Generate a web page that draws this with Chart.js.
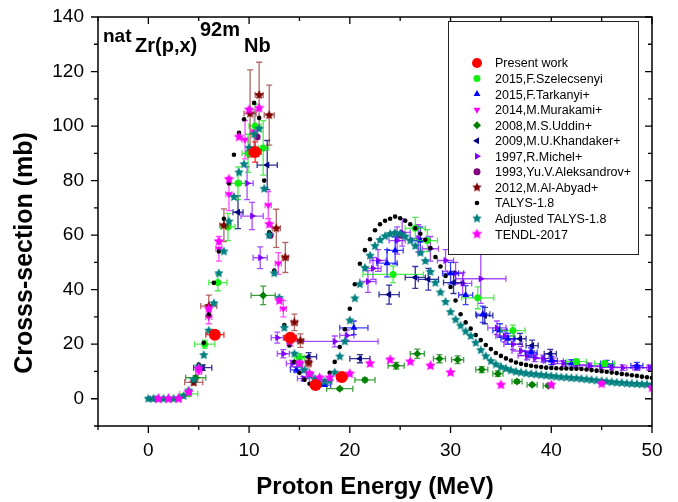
<!DOCTYPE html>
<html>
<head>
<meta charset="utf-8">
<script src="https://cdn.jsdelivr.net/npm/chart.js@4.4.1/dist/chart.umd.min.js"></script>
<style>
  html, body { margin: 0; padding: 0; background: #fff; }
</style>
</head>
<body>
<canvas id="chart" width="678" height="502"></canvas>
<script>
// ---- data (E in MeV, sigma in mb) ----
const xTickLabels = [0, 10, 20, 30, 40, 50];
const yTickLabels = [0, 20, 40, 60, 80, 100, 120, 140];

const presentE = [6.6, 10.6, 14.1, 16.6, 19.2];
const presentS = [23.5, 90.5, 22.4, 5.0, 8.0];
const presentDE = [0.9, 0.6, 0.6, 0.5, 0.5];
const presentDS = [1.5, 3.7, 1.5, 0.5, 0.6];

const szeE = [4.0, 5.6, 6.9, 7.9, 8.9, 9.9, 10.6, 11.4, 15.0, 24.3, 26.5, 27.7, 32.7, 36.2, 42.5, 45.3];
const szeS = [1.8, 20, 42.6, 63, 79, 90, 100, 92, 15, 45.6, 62.5, 58, 37, 25, 13.6, 12.9];
const szeDE = [0.9, 1.0, 0.9, 0.7, 0.7, 0.6, 0.6, 0.5, 0.5, 3.0, 1.0, 1.0, 1.6, 1.2, 1.0, 1.0];
const szeDS = [0.3, 1.5, 3, 5, 6, 7, 8, 10, 1.5, 3, 4, 4, 4, 2, 1, 1];

const tarE = [14.7, 17.5, 20.4, 23.7, 24.5, 27.0, 30.0, 31.5, 33.2, 34.9, 35.7, 38.0, 40.0, 42.0, 45.5, 48.5];
const tarS = [10.6, 5, 26, 49.7, 54.4, 58, 46, 38, 31, 25, 22, 17, 14, 13, 12.9, 12.1];
const tarDE = [0.6, 0.6, 1.4, 1.0, 0.8, 0.8, 0.8, 0.7, 0.7, 0.7, 0.7, 0.6, 0.6, 0.6, 0.6, 0.6];
const tarDS = [1, 0.5, 2.5, 5, 5, 5, 4, 3.5, 3, 2.5, 2, 1.7, 1.5, 1.3, 1.2, 1.2];

const murE = [5.0, 6.0, 7.0, 8.0, 9.6, 10.5, 11.9, 12.9, 13.4, 14.1, 15.0, 16.0];
const murS = [10, 30, 55, 75, 95, 98, 71, 49.6, 33, 21.3, 13, 9];
const murDE = [0.3, 0.3, 0.3, 0.3, 0.3, 0.3, 0.3, 0.3, 0.3, 0.3, 0.3, 0.3];
const murDS = [1, 2.5, 4.5, 6, 7, 8, 5, 4, 3, 2, 1.2, 0.8];

const uddE = [4.7, 11.4, 19.0, 21.5, 24.6, 26.7, 28.9, 30.7, 33.1, 34.7, 36.6, 38.1, 39.7];
const uddS = [7.7, 37.9, 3.7, 6.9, 12.1, 16.5, 14.7, 14.3, 10.7, 9.2, 6.3, 5.1, 4.8];
const uddDE = [1.0, 1.2, 1.3, 1.0, 0.8, 0.7, 0.6, 0.6, 0.6, 0.5, 0.5, 0.5, 0.5];
const uddDS = [0.8, 3.4, 0.5, 0.7, 1.2, 1.7, 1.5, 1.4, 1.1, 1.0, 0.7, 0.6, 0.6];

const khaE = [0.5, 5.4, 8.9, 11.8, 15.9, 21.0, 23.9, 26.5, 27.8, 30.3, 33.4, 36.9, 38.1, 39.9];
const khaS = [0, 11.4, 68.4, 85.7, 15.4, 14.7, 38.2, 44.5, 43.8, 42.6, 30.5, 22, 19.5, 16.5];
const khaDE = [0.3, 0.9, 0.5, 1.0, 0.8, 1.0, 1.0, 1.0, 1.0, 1.0, 0.8, 0.6, 0.6, 0.6];
const khaDS = [0.1, 1, 6, 9, 1.5, 1.5, 3.5, 4, 4, 4, 3, 2, 2, 1.6];

const micE = [9.8, 10.3, 11.1, 12.8, 13.4, 14.3, 15.4, 18.5, 19.7, 21.8, 22.3, 22.8, 24.7, 25.2, 26.8, 28.0, 29.5, 30.5, 31.2, 33.0, 34.6, 35.4, 36.2, 37.0, 37.6, 38.4, 39.2, 40.2, 41.2, 42.5, 43.8, 45.0, 46.0, 47.1, 48.5, 49.8];
const micS = [79, 67, 51.7, 22.4, 16.5, 12.9, 7.4, 21, 23.2, 43, 47.8, 50.7, 58, 61, 58.8, 55, 50.7, 46, 42.3, 44, 26, 23, 20, 17.5, 15.8, 15, 14.7, 13.8, 12.9, 12.5, 12.1, 11.8, 11.6, 11.4, 11.4, 11.4];
const micDE = [0.6, 1.1, 0.7, 0.6, 0.6, 0.6, 0.6, 4.3, 0.7, 0.8, 0.8, 0.8, 0.8, 0.8, 0.8, 0.8, 0.8, 0.8, 0.9, 2.5, 0.9, 0.9, 0.9, 0.9, 0.9, 0.9, 0.9, 1.0, 1.0, 1.0, 1.0, 1.0, 1.0, 1.0, 1.0, 1.0];
const micDS = [6, 5, 4, 2, 1.5, 1.2, 0.8, 2, 2, 4, 4, 4, 5, 5, 5, 4.5, 4, 4, 4, 9, 2.5, 2.2, 2, 1.7, 1.5, 1.4, 1.3, 1.2, 1.1, 1, 1, 1, 1, 1, 1, 1];

const aleE = [10.8, 12.1, 25.0];
const aleS = [96, 60, 60];

const abyE = [4.5, 6.0, 7.5, 10.1, 11.0, 12.0, 12.7, 13.6, 14.5, 15.1, 15.9];
const abyS = [6, 34, 63.6, 104.6, 111.4, 104, 62.5, 51.8, 28, 21.3, 13.2];
const abyDE = [0.9, 0.8, 0.4, 0.6, 0.4, 0.5, 0.4, 0.3, 0.3, 0.3, 0.3];
const abyDS = [1, 4, 6, 16, 12, 11, 7, 5.5, 3, 2.5, 1.5];

const modelE = [0, 0.5, 1, 1.5, 2, 2.5, 3, 3.5, 4, 4.5, 5, 5.5, 6, 6.5, 7, 7.5, 8, 8.5, 9, 9.5,
  10, 10.5, 11, 11.5, 12, 12.5, 13, 13.5, 14, 14.5, 15, 15.5, 16, 16.5, 17, 17.5, 18, 18.5, 19, 19.5,
  20, 20.5, 21, 21.5, 22, 22.5, 23, 23.5, 24, 24.5, 25, 25.5, 26, 26.5, 27, 27.5, 28, 28.5, 29, 29.5,
  30, 30.5, 31, 31.5, 32, 32.5, 33, 33.5, 34, 34.5, 35, 35.5, 36, 36.5, 37, 37.5, 38, 38.5, 39, 39.5,
  40, 40.5, 41, 41.5, 42, 42.5, 43, 43.5, 44, 44.5, 45, 45.5, 46, 46.5, 47, 47.5, 48, 48.5, 49, 49.5, 50];
const talys = [0, 0, 0, 0, 0, 0, 0.2, 1, 2.8, 6.5,
  12.5, 20.5, 31, 42.5, 54, 66, 79, 89.5, 97.5, 102.5,
  106, 108.5, 103, 80, 61, 47, 36, 27, 19.5, 13.5,
  9.5, 7, 5.5, 4.8, 5, 6.5, 9.5, 13.5, 19, 25.5,
  33, 42, 49.5, 54.5, 58.5, 61.8, 64, 65.3, 66, 66.8,
  66.2, 65.3, 64, 62.5, 60.5, 58.3, 55.3, 52, 48.5, 45,
  41, 36, 31, 28, 25.7, 23.4, 21.5, 19.7, 18.2, 16.8,
  15.7, 14.8, 14, 13.3, 12.8, 12.4, 12.1, 11.8, 11.6, 11.4,
  11.3, 11.2, 11.1, 11.1, 11, 11, 10.9, 10.7, 10.5, 10.3,
  10.1, 9.9, 9.6, 9.4, 9.1, 8.9, 8.6, 8.4, 8.1, 7.9, 7.7];
const talysAdj = [0, 0, 0, 0, 0, 0, 0.2, 1, 3, 7,
  11.8, 16, 25, 35, 46, 54, 65, 74, 83, 86,
  92, 97, 99, 77, 60, 46, 37, 26, 21.5, 16.5,
  12.5, 10.5, 8.7, 7.3, 6.6, 6.3, 6.6, 9.6, 15.5, 21,
  28.7, 36.8, 42, 48, 52.5, 56, 58.2, 59.6, 60.4, 60.8,
  60.4, 59.5, 58, 56, 53.5, 50.5, 46.5, 42.5, 39, 35.5,
  31.8, 29, 26.8, 24.7, 23, 20.5, 17.8, 15.6, 13.8, 12.6,
  11.7, 11, 10.4, 9.9, 9.6, 9.3, 9.1, 8.9, 8.7, 8.5,
  8.3, 8.1, 7.9, 7.8, 7.6, 7.5, 7.3, 7.1, 6.9, 6.7,
  6.5, 6.3, 6.1, 5.9, 5.8, 5.6, 5.5, 5.4, 5.3, 5.2, 5.1];

const tendlE = [1, 2, 3, 4, 5, 6, 7, 8, 9, 10, 11, 12, 13, 14, 15, 16, 17, 18, 19, 20, 22, 24, 26, 28, 30, 35, 40, 45, 50];
const tendlS = [0, 0, 0, 2.4, 11, 33, 57.7, 80.5, 96, 106, 106.6, 64, 36, 21, 13, 9.2, 7.7, 7.7, 7.7, 9.2, 12.9, 14.3, 13.6, 12.1, 9.6, 5.1, 5.1, 5.5, 4];

// ---- helpers ----
const FONT = "'Liberation Sans', Arial, Helvetica, sans-serif";

function makeStar(color, r) {
  const c = document.createElement("canvas");
  const s = Math.ceil(r * 2 + 2);
  c.width = s; c.height = s;
  const g = c.getContext("2d");
  g.fillStyle = color;
  g.beginPath();
  for (let i = 0; i < 10; i++) {
    const rad = i % 2 === 0 ? r : r * 0.48;
    const a = -Math.PI / 2 + i * Math.PI / 5;
    const px = s / 2 + rad * Math.cos(a), py = s / 2 + rad * Math.sin(a);
    i === 0 ? g.moveTo(px, py) : g.lineTo(px, py);
  }
  g.closePath();
  g.fill();
  return c;
}

const pts = (xs, ys) => xs.map((x, i) => ({ x: x, y: ys[i] }));

function series(label, xs, ys, style) {
  return Object.assign({
    label: label,
    data: pts(xs, ys),
    showLine: false,
    borderWidth: 0,
    pointBorderWidth: 0,
    pointHoverRadius: 0
  }, style);
}

const datasets = [
  series("Present work", presentE, presentS, { backgroundColor: "#ff0000", borderColor: "#ff0000", pointStyle: "circle", pointRadius: 6, xErr: presentDE, yErr: presentDS, errColor: "rgba(255,0,0,0.85)", order: 0 }),
  series("2015,F.Szelecsenyi", szeE, szeS, { backgroundColor: "#11ee11", borderColor: "#11ee11", pointStyle: "circle", pointRadius: 3.5, xErr: szeDE, yErr: szeDS, errColor: "rgba(20,230,20,0.75)", order: 6 }),
  series("2015,F.Tarkanyi+", tarE, tarS, { backgroundColor: "#0000ff", borderColor: "#0000ff", pointStyle: "triangle", pointRadius: 4, xErr: tarDE, yErr: tarDS, errColor: "rgba(0,0,255,0.75)", order: 7 }),
  series("2014,M.Murakami+", murE, murS, { backgroundColor: "#ff00ff", borderColor: "#ff00ff", pointStyle: "triangle", pointRotation: 180, pointRadius: 4, xErr: murDE, yErr: murDS, errColor: "rgba(255,0,255,0.7)", order: 8 }),
  series("2008,M.S.Uddin+", uddE, uddS, { backgroundColor: "#008000", borderColor: "#008000", pointStyle: "rectRot", pointRadius: 4, xErr: uddDE, yErr: uddDS, errColor: "rgba(0,128,0,0.75)", order: 9 }),
  series("2009,M.U.Khandaker+", khaE, khaS, { backgroundColor: "#000080", borderColor: "#000080", pointStyle: "triangle", pointRotation: -90, pointRadius: 4, xErr: khaDE, yErr: khaDS, errColor: "rgba(0,0,128,0.8)", order: 10 }),
  series("1997,R.Michel+", micE, micS, { backgroundColor: "#8000ff", borderColor: "#8000ff", pointStyle: "triangle", pointRotation: 90, pointRadius: 4, xErr: micDE, yErr: micDS, errColor: "rgba(128,0,255,0.7)", order: 11 }),
  series("1993,Yu.V.Aleksandrov+", aleE, aleS, { backgroundColor: "#800080", borderColor: "#800080", pointStyle: "circle", pointRadius: 3.5, order: 12 }),
  series("2012,M.Al-Abyad+", abyE, abyS, { backgroundColor: "#800000", borderColor: "#800000", pointStyle: makeStar("#800000", 5), pointRadius: 5, xErr: abyDE, yErr: abyDS, errColor: "rgba(128,0,0,0.6)", order: 5 }),
  series("TALYS-1.8", modelE, talys, { backgroundColor: "#000000", borderColor: "#000000", pointStyle: "circle", pointRadius: 2.3, order: 3 }),
  series("Adjusted TALYS-1.8", modelE, talysAdj, { backgroundColor: "#008080", borderColor: "#008080", pointStyle: makeStar("#008080", 5), pointRadius: 5, order: 2 }),
  series("TENDL-2017", tendlE, tendlS, { backgroundColor: "#ff00ff", borderColor: "#ff00ff", pointStyle: makeStar("#ff00ff", 5.5), pointRadius: 5.5, order: 1 })
];

// error bars are drawn right before the markers of their own dataset
const errorBars = {
  id: "errorBars",
  beforeDatasetDraw(chart, args) {
    const ds = chart.data.datasets[args.index];
    if (!ds.xErr && !ds.yErr) return;
    const { ctx, chartArea: a, scales: { x, y } } = chart;
    ctx.save();
    ctx.beginPath();
    ctx.rect(a.left, a.top, a.right - a.left, a.bottom - a.top);
    ctx.clip();
    ctx.strokeStyle = ds.errColor;
    ctx.lineWidth = 1.3;
    const cap = 3;
    ds.data.forEach((p, i) => {
      const px = x.getPixelForValue(p.x), py = y.getPixelForValue(p.y);
      ctx.beginPath();
      if (ds.xErr && ds.xErr[i]) {
        const l = x.getPixelForValue(p.x - ds.xErr[i]), r = x.getPixelForValue(p.x + ds.xErr[i]);
        ctx.moveTo(l, py); ctx.lineTo(r, py);
        ctx.moveTo(l, py - cap); ctx.lineTo(l, py + cap);
        ctx.moveTo(r, py - cap); ctx.lineTo(r, py + cap);
      }
      if (ds.yErr && ds.yErr[i]) {
        const t = y.getPixelForValue(p.y + ds.yErr[i]), b = y.getPixelForValue(p.y - ds.yErr[i]);
        ctx.moveTo(px, t); ctx.lineTo(px, b);
        ctx.moveTo(px - cap, t); ctx.lineTo(px + cap, t);
        ctx.moveTo(px - cap, b); ctx.lineTo(px + cap, b);
      }
      ctx.stroke();
    });
    ctx.restore();
  }
};

// frame with major/minor ticks on all four sides, axis titles, reaction label, legend
const decorations = {
  id: "decorations",
  afterDraw(chart) {
    const { ctx, chartArea: a, scales: { x, y } } = chart;
    ctx.save();
    ctx.strokeStyle = "#000";
    ctx.lineWidth = 1.5;
    ctx.strokeRect(a.left, a.top, a.right - a.left, a.bottom - a.top);

    ctx.lineWidth = 1.3;
    ctx.beginPath();
    for (let v = -5; v <= 50; v += 5) {
      const px = x.getPixelForValue(v);
      const len = v % 10 === 0 ? 7 : 4;
      ctx.moveTo(px, a.bottom); ctx.lineTo(px, a.bottom + len);
      ctx.moveTo(px, a.top); ctx.lineTo(px, a.top + len);
    }
    for (let v = -10; v <= 140; v += 10) {
      const py = y.getPixelForValue(v);
      const len = v % 20 === 0 ? 7 : 4;
      ctx.moveTo(a.left, py); ctx.lineTo(a.left - len, py);
      ctx.moveTo(a.right, py); ctx.lineTo(a.right - len, py);
    }
    ctx.stroke();

    // axis titles
    ctx.fillStyle = "#000";
    ctx.font = "bold 24px " + FONT;
    ctx.textAlign = "center";
    ctx.textBaseline = "alphabetic";
    ctx.fillText("Proton Energy (MeV)", (a.left + a.right) / 2, 494);
    ctx.save();
    ctx.translate(32, 253);
    ctx.rotate(-Math.PI / 2);
    ctx.font = "bold 25px " + FONT;
    ctx.fillText("Crosss-section (mb)", 0, 0);
    ctx.restore();

    // reaction label
    ctx.textAlign = "left";
    ctx.font = "bold 19px " + FONT;
    ctx.fillText("nat", 103, 42);
    ctx.font = "bold 20px " + FONT;
    ctx.fillText("Zr(p,x)", 135, 52);
    ctx.fillText("92m", 200, 36);
    ctx.fillText("Nb", 244, 52);

    // legend
    ctx.fillStyle = "#fff";
    ctx.fillRect(448, 21, 191, 234);
    ctx.strokeStyle = "#222";
    ctx.lineWidth = 1;
    ctx.strokeRect(448.5, 21.5, 190, 233);
    ctx.font = "12.5px " + FONT;
    ctx.textBaseline = "middle";
    chart.data.datasets.forEach((ds, i) => {
      const ly = 63 + i * 15.55;
      const r = i === 0 ? 5 : (i === 9 ? 2.3 : Math.min(ds.pointRadius, 4));
      ctx.fillStyle = ds.backgroundColor;
      ctx.strokeStyle = ds.backgroundColor;
      Chart.helpers.drawPoint(ctx, { pointStyle: ds.pointStyle, rotation: ds.pointRotation || 0, radius: r, borderWidth: 0 }, 477, ly);
      ctx.fillStyle = "#000";
      ctx.fillText(ds.label, 495, ly + 1);
    });
    ctx.restore();
  }
};

new Chart(document.getElementById("chart"), {
  type: "scatter",
  data: { datasets: datasets },
  options: {
    responsive: false,
    animation: false,
    events: [],
    layout: { padding: { left: 0, right: 26, top: 17, bottom: 0 } },
    plugins: { legend: { display: false }, tooltip: { enabled: false } },
    scales: {
      x: {
        type: "linear", min: -5, max: 50,
        afterBuildTicks: s => { s.ticks = xTickLabels.map(v => ({ value: v })); },
        afterFit: s => { s.height = 76; s.paddingLeft = 0; s.paddingRight = 0; },
        grid: { display: false, drawTicks: false },
        border: { display: false },
        ticks: { color: "#000", font: { size: 19, family: FONT }, padding: 13, maxRotation: 0, autoSkip: false }
      },
      y: {
        type: "linear", min: -10, max: 140,
        afterBuildTicks: s => { s.ticks = yTickLabels.map(v => ({ value: v })); },
        afterFit: s => { s.width = 98; s.paddingTop = 0; s.paddingBottom = 0; },
        grid: { display: false, drawTicks: false },
        border: { display: false },
        ticks: { color: "#000", font: { size: 19, family: FONT }, padding: 14, autoSkip: false }
      }
    }
  },
  plugins: [errorBars, decorations]
});
</script>
</body>
</html>
